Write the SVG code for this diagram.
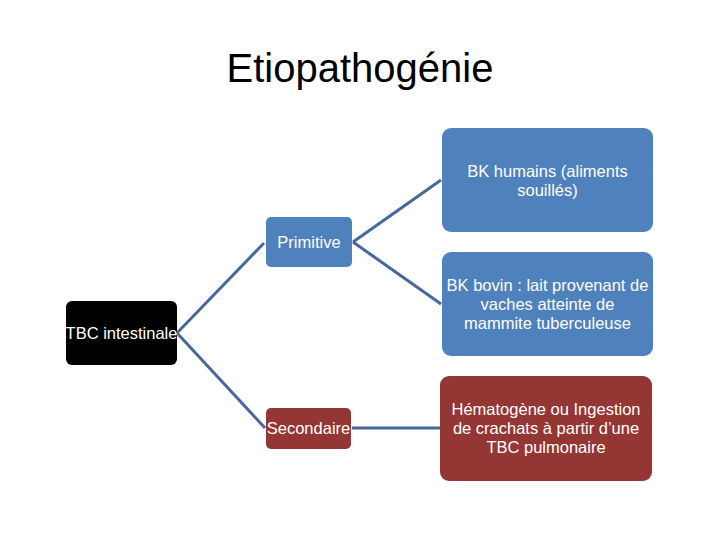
<svg xmlns="http://www.w3.org/2000/svg" width="720" height="540" viewBox="0 0 720 540">
<style>
.t{font-family:"Liberation Sans",Arial,sans-serif;font-size:16.5px;fill:#fff;text-anchor:middle}
.blue{fill:#4F81BD}
.red{fill:#943634}
.conn{stroke:#46699A;stroke-width:3;fill:none}
</style>
<rect width="720" height="540" fill="#fff"/>
<text x="360" y="82" font-family="Liberation Sans,Arial,sans-serif" font-size="40" text-anchor="middle" fill="#000">Etiopathogénie</text>
<g id="connectors">
<path class="conn" d="M177,333 L264,243"/>
<path class="conn" d="M177,333 L265,428"/>
<path class="conn" d="M353,242 L441,180"/>
<path class="conn" d="M353,242 L441,304"/>
<path class="conn" d="M352,428 L440,428"/>
</g>
<g id="tbc">
<rect x="66" y="301" width="111" height="64" rx="6" fill="#000"/>
<text class="t" x="121.5" y="339">TBC intestinale</text>
</g>
<g id="primitive">
<rect class="blue" x="266" y="217" width="86" height="50" rx="5"/>
<text class="t" x="309" y="248">Primitive</text>
</g>
<g id="secondaire">
<rect class="red" x="266" y="408" width="85" height="41" rx="5"/>
<text class="t" x="308.5" y="434">Secondaire</text>
</g>
<g id="bkhumains">
<rect class="blue" x="442" y="128" width="211" height="104" rx="9"/>
<text class="t" x="547.5" y="177">BK humains (aliments</text>
<text class="t" x="547.5" y="196">souillés)</text>
</g>
<g id="bkbovin">
<rect class="blue" x="442" y="252" width="211" height="104" rx="9"/>
<text class="t" x="547.5" y="291">BK bovin : lait provenant de</text>
<text class="t" x="547.5" y="310">vaches atteinte de</text>
<text class="t" x="547.5" y="329">mammite tuberculeuse</text>
</g>
<g id="hemato">
<rect class="red" x="440" y="376" width="212" height="105" rx="9"/>
<text class="t" x="546" y="415">Hématogène ou Ingestion</text>
<text class="t" x="546" y="434">de crachats à partir d’une</text>
<text class="t" x="546" y="453">TBC pulmonaire</text>
</g>
</svg>
